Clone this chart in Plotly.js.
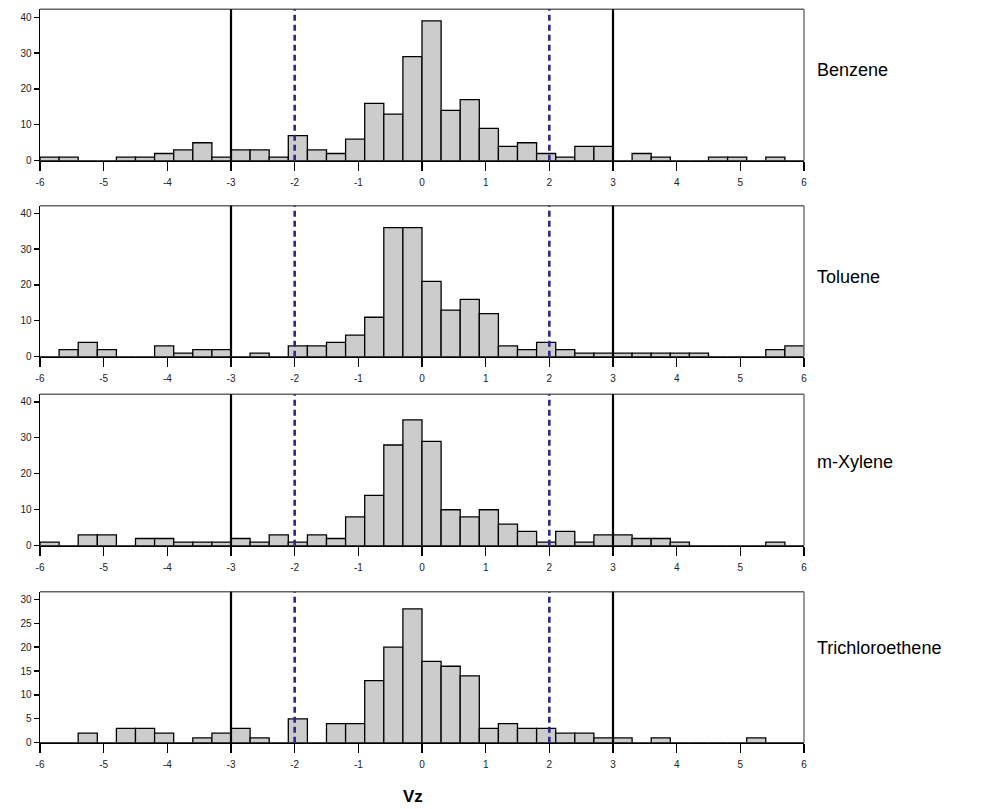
<!DOCTYPE html>
<html>
<head>
<meta charset="utf-8">
<script src="https://cdn.plot.ly/plotly-3.0.1.min.js"></script>
<style>html,body{margin:0;padding:0;background:#fff;}#chart{width:1008px;height:809px;}</style>
</head>
<body>
<div id="chart"></div>
<script>
// Histogram bins: start -6, width 0.3, 40 bins up to 6
const binStart = -6;
const binWidth = 0.3;

const compounds = ["Benzene", "Toluene", "m-Xylene", "Trichloroethene"];

const benzene = [1,1,0,0,1,1,2,3,5,1, 3,3,1,7,3,2,6,16,13,29, 39,14,17,9,4,5,2,1,4,4, 0,2,1,0,0,1,1,0,1,0];
const toluene = [0,2,4,2,0,0,3,1,2,2, 0,1,0,3,3,4,6,11,36,36, 21,13,16,12,3,2,4,2,1,1, 1,1,1,1,1,0,0,0,2,3];
const mxylene = [1,0,3,3,0,2,2,1,1,1, 2,1,3,1,3,2,8,14,28,35, 29,10,8,10,6,4,1,4,1,3, 3,2,2,1,0,0,0,0,1,0];
const tce     = [0,0,2,0,3,3,2,0,1,2, 3,1,0,5,0,4,4,13,20,28, 17,16,14,3,4,3,3,2,2,1, 1,0,1,0,0,0,0,1,0,0];

const seriesList = [benzene, toluene, mxylene, tce];

const solidLines = [-3, 3];
const dashedLines = [-2, 2];
const xTicks = [-6,-5,-4,-3,-2,-1,0,1,2,3,4,5,6];
const yMax = [42.2, 42.1, 42.1, 31.6];
const yDtick = [10, 10, 10, 5];

const W = 1008, H = 809;
const plotLeft = 40, plotRight = 804;
const panels = [[9.3, 160.7], [205.7, 356.7], [394.3, 545.7], [591.7, 742.7]];
const labelY = [70, 277, 462, 648];

const traces = [];
const layout = {
  width: W, height: H,
  margin: {l:0, r:0, t:0, b:0},
  paper_bgcolor: "#ffffff",
  plot_bgcolor: "#ffffff",
  showlegend: false,
  bargap: 0,
  font: {family: "Liberation Sans, Arial, sans-serif", color: "#000"},
  shapes: [],
  annotations: []
};

seriesList.forEach((vals, i) => {
  const n = i + 1;
  const xa = "x" + (n === 1 ? "" : n);
  const ya = "y" + (n === 1 ? "" : n);
  const centers = vals.map((_, k) => binStart + binWidth * k + binWidth / 2);
  traces.push({
    type: "bar",
    x: centers,
    y: vals,
    width: binWidth,
    xaxis: xa, yaxis: ya,
    marker: {color: "#cccccc", line: {color: "#000000", width: 1.3}},
    hoverinfo: "x+y"
  });
  const top = 1 - panels[i][0] / H;
  const bot = 1 - panels[i][1] / H;
  const xKey = "xaxis" + (n === 1 ? "" : n);
  const yKey = "yaxis" + (n === 1 ? "" : n);
  layout[xKey] = {
    domain: [plotLeft / W, plotRight / W],
    range: [-6, 6],
    anchor: ya,
    tickmode: "array",
    tickvals: xTicks,
    ticktext: xTicks.map(String),
    ticks: "outside", ticklen: 9, tickwidth: 1.3, tickcolor: "#000",
    ticklabelstandoff: 3,
    tickfont: {size: 10, color: "#222"},
    showline: true, linecolor: "#000", linewidth: 1.3,
    showgrid: false, zeroline: false, fixedrange: true
  };
  layout[yKey] = {
    domain: [bot, top],
    range: [0, yMax[i]],
    anchor: xa,
    dtick: yDtick[i], tick0: 0,
    ticks: "outside", ticklen: 5, tickwidth: 1.3, tickcolor: "#000",
    tickfont: {size: 10, color: "#222"},
    showline: true, linecolor: "#000", linewidth: 1.5,
    showgrid: false, zeroline: false, fixedrange: true
  };
  // top & right frame
  layout.shapes.push({type: "line", xref: xa + " domain", yref: ya + " domain", x0: 0, x1: 1, y0: 1, y1: 1, line: {color: "#666666", width: 1.5}, layer: "above"});
  layout.shapes.push({type: "line", xref: xa + " domain", yref: ya + " domain", x0: 1, x1: 1, y0: 0, y1: 1, line: {color: "#777777", width: 1.5}, layer: "above"});
  solidLines.forEach(v => {
    layout.shapes.push({type: "line", xref: xa, yref: ya + " domain", x0: v, x1: v, y0: 0, y1: 1, line: {color: "#000000", width: 2.2}, layer: "above"});
  });
  dashedLines.forEach(v => {
    layout.shapes.push({type: "line", xref: xa, yref: ya + " domain", x0: v, x1: v, y0: 0, y1: 1, line: {color: "#2a2a88", width: 2.6, dash: "6px,4px"}, layer: "above"});
  });
  layout.annotations.push({
    text: compounds[i], xref: "paper", yref: "paper",
    x: 815 / W, y: 1 - labelY[i] / H, xanchor: "left", yanchor: "middle",
    showarrow: false, font: {size: 18, color: "#000", family: "Liberation Sans, Arial, sans-serif"}
  });
});

layout.annotations.push({
  text: "<b>Vz</b>", xref: "paper", yref: "paper",
  x: 413 / W, y: 1 - 796 / H, xanchor: "center", yanchor: "middle",
  showarrow: false, font: {size: 17, color: "#000", family: "Liberation Sans, Arial, sans-serif"}
});

Plotly.newPlot("chart", traces, layout, {displayModeBar: false, staticPlot: true});
</script>
</body>
</html>
